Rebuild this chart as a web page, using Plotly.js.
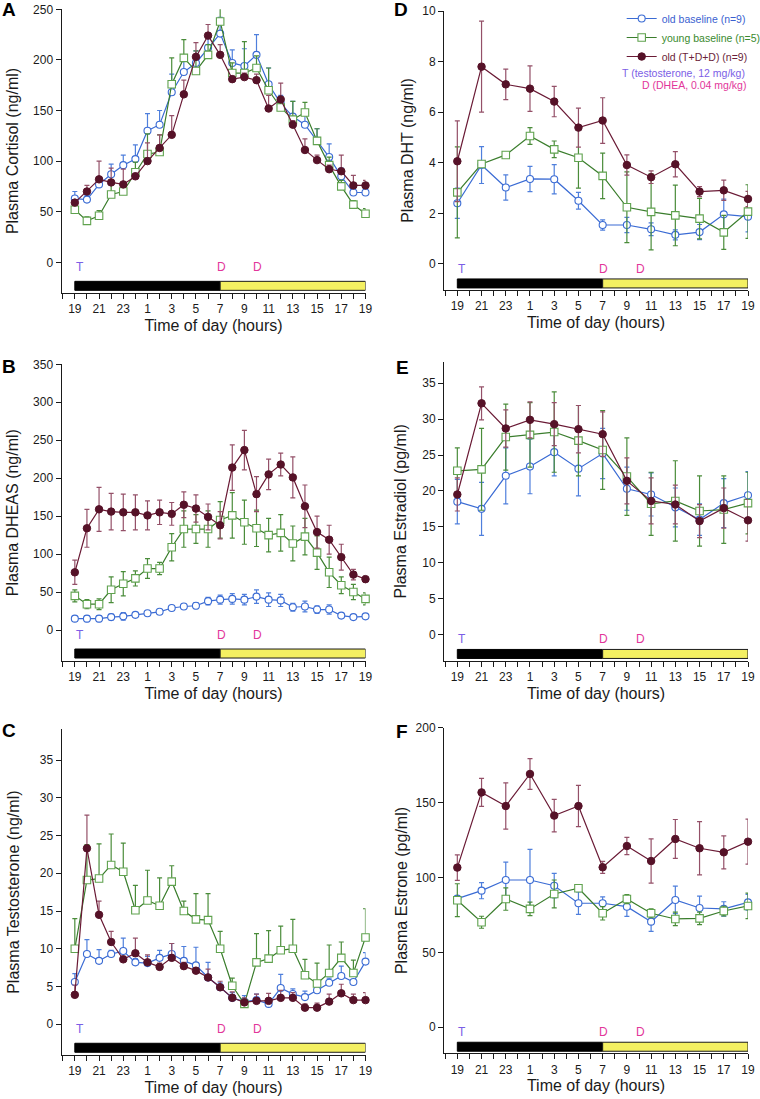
<!DOCTYPE html>
<html>
<head>
<meta charset="utf-8">
<script src="https://cdn.plot.ly/plotly-3.0.1.min.js"></script>
<style>html,body{margin:0;padding:0;background:#fff;}#chart{width:760px;height:1099px;}</style>
</head>
<body>
<div id="chart"></div>
<script>
// ---------- DATA ----------
// hours elapsed since 19:00
var hourly = [0,1,2,3,4,5,6,7,8,9,10,11,12,13,14,15,16,17,18,19,20,21,22,23,24];
var twoHourly = [0,2,4,6,8,10,12,14,16,18,20,22,24];
var clockLabels = ['19','21','23','1','3','5','7','9','11','13','15','17','19'];
var darkPeriod = [0, 12];   // 19:00 - 07:00
var lightPeriod = [12, 24]; // 07:00 - 19:00
var testosteroneDoses = [0];      // 19:00
var dheaDoses = [12, 15];         // 07:00 and 10:00
var seriesNames = ['old baseline (n=9)', 'young baseline (n=5)', 'old (T+D+D) (n=9)'];

// A: cortisol (ng/ml)
var cortOld = [63,62,77,87,96,102,130,136,168,188,197,212,226,197,194,205,176,157,144,136,120,104,85,69,69];
var cortOldErr = [7,4,5,10,10,14,17,14,18,14,12,13,16,13,17,20,16,8,15,10,12,13,8,3,4];
var cortYoung = [52,41,46,67,70,89,107,109,176,202,189,205,238,187,187,192,170,153,141,148,120,96,75,57,48];
var cortYoungErr = [5,4,5,10,4,10,20,17,26,18,20,10,20,10,31,12,22,4,18,10,12,8,6,4,5];
var cortTreat = [59,70,82,79,77,85,100,113,126,166,203,224,205,181,183,180,152,161,136,111,101,92,90,76,76];
var cortTreatErr = [3,6,18,14,15,3,18,13,19,14,14,11,10,3,4,6,13,16,4,11,5,4,16,10,5];

// B: DHEAS (ng/ml)
var dheasOld = [15,15,15,17,18,20,22,24,29,31,32,38,40,41,40,44,40,39,30,31,27,27,19,17,18];
var dheasOldErr = [3,4,4,4,5,2,2,2,3,3,4,5,6,7,7,9,9,8,5,7,5,6,3,2,2];
var dheasYoung = [45,34,34,53,61,68,81,81,109,133,133,133,145,151,142,134,125,128,114,123,102,76,59,50,41];
var dheasYoungErr = [8,6,7,17,16,10,13,8,18,24,19,24,24,30,29,24,22,24,23,24,22,20,11,10,8];
var dheasTreat = [76,134,159,156,155,155,151,155,153,165,160,149,138,214,237,179,205,218,201,163,129,119,96,73,67];
var dheasTreatErr = [16,25,29,24,24,23,19,16,15,17,18,17,18,30,26,23,20,15,27,28,21,19,17,7,4];

// C: testosterone (ng/ml)
var testOld = [5.6,9.3,8.4,9.3,9.7,8.2,8.1,8.8,9.3,8.4,7.8,6.2,4.9,3.5,3.0,3.2,2.7,4.8,4.0,3.6,4.5,5.5,6.4,5.6,8.3];
var testOldErr = [1.1,1.9,1.5,0.5,1.7,0.5,0.9,1.0,1.4,1.9,2.4,2.0,0.6,0.7,0.8,0.8,0.5,1.8,0.7,0.8,0.6,0.6,1.3,0.3,1.2];
var testYoung = [10.0,19.1,19.3,21.1,20.2,15.1,16.4,15.7,18.9,15.0,13.9,13.8,10.0,5.1,2.7,8.2,8.7,9.8,10.0,6.5,5.4,6.8,8.8,6.8,11.5];
var testYoungErr = [4.0,4.7,4.6,4.1,3.8,3.3,4.0,3.7,2.1,1.3,3.4,3.5,2.3,1.0,0.6,3.8,3.7,3.2,3.9,2.1,2.7,3.7,2.1,1.7,3.8];
var testTreat = [3.9,23.3,14.5,10.9,8.6,9.4,8.2,7.6,8.8,7.7,7.1,6.2,4.9,3.5,2.9,3.1,3.1,3.5,3.5,2.2,2.2,3.0,4.1,3.2,3.2];
var testTreatErr = [1.3,4.4,1.8,1.4,0.4,2.0,1.0,0.5,1.9,0.5,0.4,1.1,0.8,0.8,0.6,0.9,1.0,1.0,0.7,0.5,0.6,1.0,1.2,0.8,1.0];

// D: DHT (ng/ml)
var dhtOld = [2.4,3.91,3.02,3.36,3.35,2.5,1.54,1.54,1.37,1.15,1.26,1.96,1.87];
var dhtOldErr = [0.6,0.73,0.5,0.5,0.58,0.33,0.2,0.3,0.25,0.2,0.3,0.6,0.6];
var dhtYoung = [2.83,3.95,4.31,5.06,4.53,4.2,3.48,2.24,2.06,1.92,1.79,1.25,2.07];
var dhtYoungErr = [1.8,0.1,0.1,0.33,0.33,1.2,0.9,1.4,1.5,1.2,0.8,0.67,1.06];
var dhtTreat = [4.06,7.8,7.1,6.93,6.42,5.39,5.67,3.91,3.43,3.94,2.86,2.91,2.57];
var dhtTreatErr = [1.6,1.8,0.6,0.9,0.6,0.77,0.9,0.4,0.25,0.5,0.2,0.4,0.3];

// E: estradiol (pg/ml)
var e2Old = [18.5,17.5,22.1,23.4,25.4,23.1,25.2,20.3,19.5,17.7,16.0,18.3,19.4];
var e2OldErr = [3.1,3.7,3.9,3.8,3.3,3.8,3.5,3.0,3.0,2.7,2.2,3.4,3.3];
var e2Young = [22.8,23.0,27.5,27.8,28.2,27.0,25.7,22.0,18.2,18.6,17.2,17.4,18.3];
var e2YoungErr = [3.2,5.7,4.6,4.5,5.6,4.9,5.5,5.4,4.4,5.6,4.9,4.7,4.3];
var e2Treat = [19.5,32.2,28.7,29.9,29.3,28.6,27.9,21.4,18.6,18.1,15.8,17.6,15.9];
var e2TreatErr = [2.3,2.3,2.6,2.5,3.0,3.3,3.1,3.2,3.2,2.7,2.3,2.8,2.9];

// F: estrone (pg/ml)
var e1Old = [85.9,91.2,98.3,98.3,94.5,82.8,82.8,80.5,70.5,85.0,79.6,79.0,83.4];
var e1OldErr = [2,5.4,11.9,20.5,8.2,7.5,4.3,6.5,6.5,9.2,8,4.8,5.3];
var e1Young = [84.8,70.1,85.6,79.0,89.0,92.8,76.1,85.6,76.1,72.3,72.7,77.6,81.0];
var e1YoungErr = [11,4,7.5,4.5,9.3,2,4.5,3,3,4.5,4.2,3.2,8.5];
var e1Treat = [106.6,156.8,147.7,169.1,141.3,147.7,106.8,121.0,111.0,125.7,119.5,116.8,123.9];
var e1TreatErr = [8.5,9.3,15.4,10.3,10.8,13.8,4,5.8,14.8,13,17.8,11,15];

// ---------- STYLE / LAYOUT ----------
var FONT = 'Liberation Sans, Arial, Helvetica, sans-serif';
var W = 760, H = 1099;
var styles = [
  {line:'#3a6bd4', err:'#4f7fdc', marker:{symbol:'circle', size:7, color:'#ffffff', line:{color:'#3a6bd4', width:1.1}}, text:'#3a5fd0'},
  {line:'#3a7d2c', err:'#4a8c3a', marker:{symbol:'square', size:7.5, color:'#ffffff', line:{color:'#5fa24e', width:1.1}}, text:'#3a8a2e'},
  {line:'#6a1a35', err:'#945068', marker:{symbol:'circle', size:7.5, color:'#561228', line:{color:'#561228', width:1}}, text:'#6b1f3a'}
];
function px2y(p){ return 1 - p / H; }
var leftX = [61.5 / W, 365.5 / W], rightX = [444 / W, 748 / W];

var panels = [
  {letter:'A', lx:9, ly:8, xdom:leftX, ydom:[px2y(292.7), px2y(9.3)], yr:[-30,250], yt:[0,50,100,150,200,250], title:'Plasma Cortisol (ng/ml)', xs:hourly, sets:[[cortOld,cortOldErr],[cortYoung,cortYoungErr],[cortTreat,cortTreatErr]], up:true, bar:[-19,-28], so:10},
  {letter:'B', lx:9, ly:365, xdom:leftX, ydom:[px2y(661), px2y(364.3)], yr:[-40.8,350], yt:[0,50,100,150,200,250,300,350], title:'Plasma DHEAS (ng/ml)', xs:hourly, sets:[[dheasOld,dheasOldErr],[dheasYoung,dheasYoungErr],[dheasTreat,dheasTreatErr]], up:false, bar:[-19,-28], so:10},
  {letter:'C', lx:9, ly:729, xdom:leftX, ydom:[px2y(1055), px2y(729.3)], yr:[-4.07,39.07], yt:[0,5,10,15,20,25,30,35], title:'Plasma Testosterone (ng/ml)', xs:hourly, sets:[[testOld,testOldErr],[testYoung,testYoungErr],[testTreat,testTreatErr]], up:true, bar:[-19,-28], so:16},
  {letter:'D', lx:401, ly:9, xdom:rightX, ydom:[px2y(290), px2y(11)], yr:[-1.03,10], yt:[0,2,4,6,8,10], title:'Plasma DHT (ng/ml)', xs:twoHourly, sets:[[dhtOld,dhtOldErr],[dhtYoung,dhtYoungErr],[dhtTreat,dhtTreatErr]], up:false, bar:[-15,-24], so:4},
  {letter:'E', lx:402, ly:367, xdom:rightX, ydom:[px2y(661), px2y(361.7)], yr:[-3.7,38], yt:[0,5,10,15,20,25,30,35], title:'Plasma Estradiol (pg/ml)', xs:twoHourly, sets:[[e2Old,e2OldErr],[e2Young,e2YoungErr],[e2Treat,e2TreatErr]], up:false, bar:[-15,-24], so:11},
  {letter:'F', lx:402, ly:730, xdom:rightX, ydom:[px2y(1053.3), px2y(727.7)], yr:[-17.4,200], yt:[0,50,100,150,200], title:'Plasma Estrone (pg/ml)', xs:twoHourly, sets:[[e1Old,e1OldErr],[e1Young,e1YoungErr],[e1Treat,e1TreatErr]], up:false, bar:[-15,-24], so:3}
];

var traces = [];
var layout = {
  width: W, height: H,
  margin: {l:0, r:0, t:0, b:0, autoexpand:false},
  paper_bgcolor: '#ffffff', plot_bgcolor: 'rgba(0,0,0,0)',
  font: {family: FONT, size: 12, color: '#1a1a1a'},
  showlegend: true,
  legend: {x: 0.818, y: px2y(4), xanchor:'left', yanchor:'top', bgcolor:'rgba(0,0,0,0)', font:{size:10.5, family:FONT}, tracegroupgap:0, itemwidth:30},
  annotations: [], shapes: []
};

panels.forEach(function(p, i){
  var n = i === 0 ? '' : String(i + 1);
  var xa = 'x' + n, ya = 'y' + n;
  p.sets.forEach(function(s, k){
    var st = styles[k];
    var zeros = s[1].map(function(){ return 0; });
    traces.push({
      type:'scatter', mode:'lines+markers', x:p.xs, y:s[0], xaxis:xa, yaxis:ya,
      name:'<span style="color:' + st.text + '">' + seriesNames[k] + '</span>',
      legendgroup:'g' + k, showlegend: p.letter === 'D',
      line:{color:st.line, width:1.2}, marker:st.marker, cliponaxis:false,
      error_y: p.up ? {type:'data', symmetric:false, array:s[1], arrayminus:zeros, color:st.err, thickness:1.2, width:2.5}
                    : {type:'data', symmetric:true, array:s[1], color:st.err, thickness:1.2, width:2.5},
      hoverinfo:'x+y'
    });
  });
  layout['xaxis' + n] = {
    domain:p.xdom, anchor:ya, range:[-1.1, 24], showgrid:false, zeroline:false, automargin:false,
    showline:true, linecolor:'#1a1a1a', linewidth:1, ticks:'outside', ticklen:5, tickwidth:1, tickcolor:'#1a1a1a',
    tickmode:'array', tickvals:twoHourly, ticktext:clockLabels, tickfont:{size:12},
    minor:{tickmode:'linear', tick0:0, dtick:1, ticks:'outside', ticklen:5, tickwidth:1, tickcolor:'#1a1a1a', showgrid:false},
    title:{text:'Time of day (hours)', font:{size:16, color:'#1a1a1a'}, standoff:4}
  };
  layout['yaxis' + n] = {
    domain:p.ydom, anchor:xa, range:p.yr, showgrid:false, zeroline:false, automargin:false,
    showline:true, linecolor:'#1a1a1a', linewidth:1, ticks:'outside', ticklen:5, tickwidth:1, tickcolor:'#1a1a1a',
    tickmode:'array', tickvals:p.yt, tickfont:{size:12},
    title:{text:p.title, font:{size:16, color:'#1a1a1a'}, standoff:p.so}
  };
  // light/dark bar
  layout.shapes.push({type:'rect', xref:xa, yref:ya, ysizemode:'pixel', yanchor:0, x0:darkPeriod[0], x1:darkPeriod[1], y0:p.bar[0], y1:p.bar[1], fillcolor:'#000000', line:{color:'#000000', width:1}});
  layout.shapes.push({type:'rect', xref:xa, yref:ya, ysizemode:'pixel', yanchor:0, x0:lightPeriod[0], x1:lightPeriod[1], y0:p.bar[0], y1:p.bar[1], fillcolor:'#f4f062', line:{color:'#1a1a1a', width:1}});
  // dose labels
  testosteroneDoses.forEach(function(t){
    layout.annotations.push({xref:xa, yref:ya, x:t, y:0, xanchor:'left', yanchor:'middle', xshift:-1, yshift:-5, text:'T', showarrow:false, font:{size:12, color:'#7b5ee6'}});
  });
  dheaDoses.forEach(function(t){
    layout.annotations.push({xref:xa, yref:ya, x:t, y:0, xanchor:'center', yanchor:'middle', xshift:1, yshift:-5, text:'D', showarrow:false, font:{size:12, color:'#e2369a'}});
  });
  // panel letter
  layout.annotations.push({xref:'paper', yref:'paper', x:p.lx / W, y:px2y(p.ly + 1), xanchor:'center', yanchor:'middle', text:'<b>' + p.letter + '</b>', showarrow:false, font:{size:19, color:'#000000', family:FONT}});
});

layout.annotations.push({xref:'paper', yref:'paper', x:747 / W, y:px2y(73), xanchor:'right', yanchor:'middle', text:'T (testosterone, 12 mg/kg)', showarrow:false, font:{size:10.5, color:'#7b5ee6'}});
layout.annotations.push({xref:'paper', yref:'paper', x:748 / W, y:px2y(85), xanchor:'right', yanchor:'middle', text:'D (DHEA, 0.04 mg/kg)', showarrow:false, font:{size:10.5, color:'#e2369a'}});

Plotly.newPlot('chart', traces, layout, {displayModeBar:false, staticPlot:true});
</script>
</body>
</html>
